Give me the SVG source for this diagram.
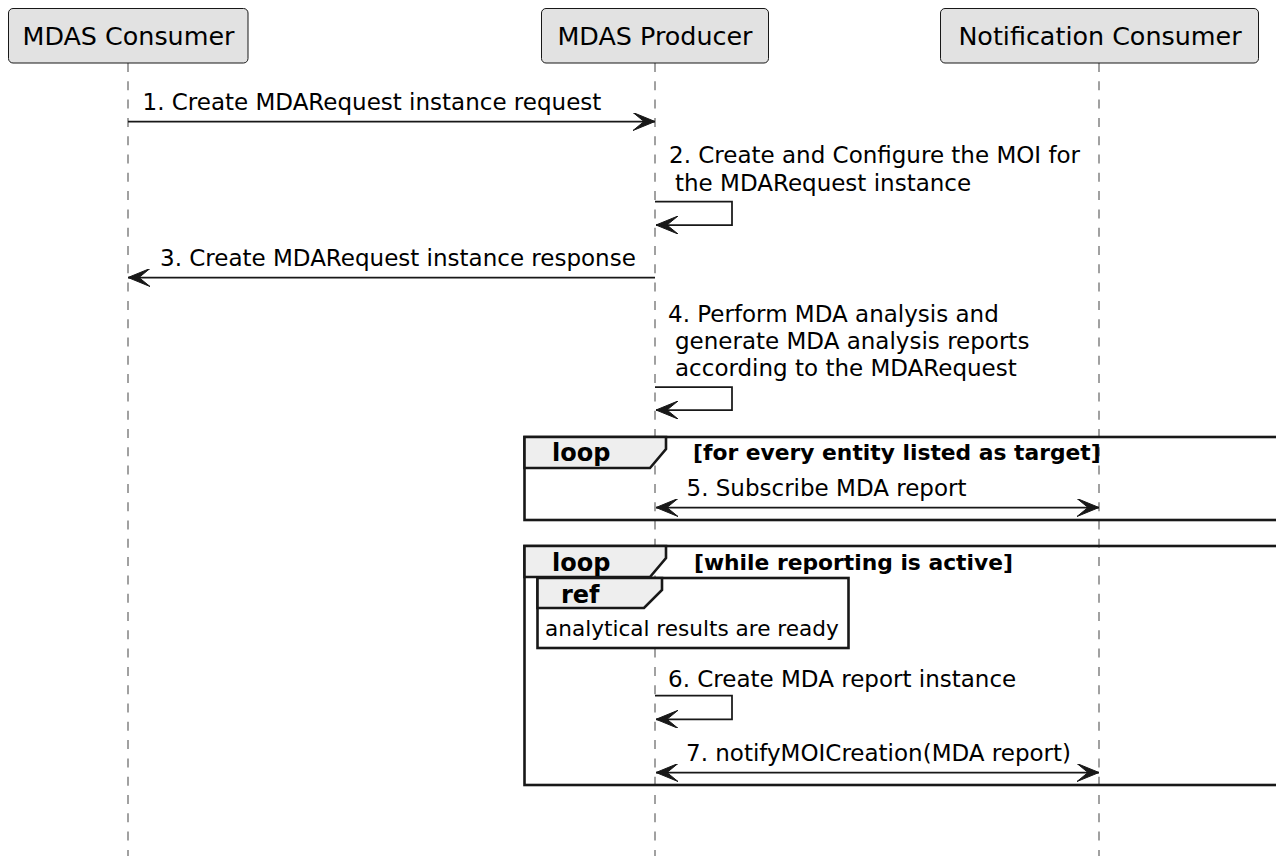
<svg xmlns="http://www.w3.org/2000/svg" width="1276" height="856" viewBox="0 0 1276 856">
<style>
  .pbox { fill: #E2E2E2; stroke: #181818; stroke-width: 1; }
  .ptxt { font-family: "DejaVu Sans", sans-serif; font-size: 25.4px; fill: #000; }
  .life { stroke: #8A8A8A; stroke-width: 1.6; stroke-dasharray: 9,9.3; fill: none; }
  .msg { stroke: #181818; stroke-width: 1.75; fill: none; }
  .mtxt { font-family: "DejaVu Sans", sans-serif; font-size: 23px; fill: #000; }
  .frame { fill: none; stroke: #181818; stroke-width: 2.6; }
  .tab { fill: #EEEEEE; stroke: #181818; stroke-width: 2.6; }
  .ftitle { font-family: "DejaVu Sans", sans-serif; font-weight: bold; font-size: 24px; fill: #000; }
  .guard { font-family: "DejaVu Sans", sans-serif; font-weight: bold; font-size: 21.8px; fill: #000; }
  .reftxt { font-family: "DejaVu Sans", sans-serif; font-size: 21.6px; fill: #000; }
</style>
<defs>
  <marker id="ah" viewBox="0 0 22 18" refX="22" refY="9" markerWidth="22" markerHeight="18" markerUnits="userSpaceOnUse" orient="auto-start-reverse">
    <path d="M0,0 L22,9 L0,18 L11,9 Z" fill="#181818" stroke="#181818" stroke-width="1"/>
  </marker>
</defs>
<rect width="1276" height="856" fill="#FFFFFF"/>

<g id="lifelines">
  <line class="life" x1="128" y1="63" x2="128" y2="856"/>
  <line class="life" x1="655" y1="63" x2="655" y2="856"/>
  <line class="life" x1="1099" y1="63" x2="1099" y2="856"/>
</g>

<g id="mdas-consumer">
  <rect class="pbox" x="8.5" y="8.5" width="239.5" height="54.5" rx="4.5"/>
  <text class="ptxt" x="128.5" y="45" text-anchor="middle">MDAS Consumer</text>
</g>
<g id="mdas-producer">
  <rect class="pbox" x="541.5" y="8.5" width="227" height="54.5" rx="4.5"/>
  <text class="ptxt" x="655" y="45" text-anchor="middle">MDAS Producer</text>
</g>
<g id="notification-consumer">
  <rect class="pbox" x="940.5" y="8.5" width="318" height="54.5" rx="4.5"/>
  <text class="ptxt" x="1100" y="45" text-anchor="middle">Notification Consumer</text>
</g>

<g id="loop1">
  <rect class="frame" x="524.5" y="437" width="760" height="83"/>
  <path class="tab" d="M524.5,437 L666,437 L666,449 L650,468 L524.5,468 Z"/>
  <text class="ftitle" x="552" y="461">loop</text>
  <text class="guard" x="693" y="460">[for every entity listed as target]</text>
</g>

<g id="loop2">
  <rect class="frame" x="524.5" y="546" width="760" height="239"/>
  <path class="tab" d="M524.5,546 L666,546 L666,558 L650,577 L524.5,577 Z"/>
  <text class="ftitle" x="552" y="571">loop</text>
  <text class="guard" x="694" y="570">[while reporting is active]</text>
</g>

<g id="ref">
  <rect x="537.5" y="578" width="311" height="70" fill="#FFFFFF" stroke="#181818" stroke-width="2.6"/>
  <path class="tab" d="M537.5,578 L662,578 L662,590 L644,608 L537.5,608 Z"/>
  <text class="ftitle" x="561" y="603">ref</text>
  <text class="reftxt" x="545" y="636">analytical results are ready</text>
</g>

<g id="connectors">
  <line class="msg" x1="128" y1="121.5" x2="655" y2="121.5" marker-end="url(#ah)"/>
  <text class="mtxt" x="142.5" y="110">1. Create MDARequest instance request</text>

  <polyline class="msg" points="655,201.7 732,201.7 732,225 656,225" marker-end="url(#ah)"/>
  <text class="mtxt" x="669" y="163">2. Create and Configure the MOI for</text>
  <text class="mtxt" x="675" y="190.5">the MDARequest instance</text>

  <line class="msg" x1="655" y1="277.5" x2="128" y2="277.5" marker-end="url(#ah)"/>
  <text class="mtxt" x="160" y="266">3. Create MDARequest instance response</text>

  <polyline class="msg" points="655,387 732,387 732,410 656,410" marker-end="url(#ah)"/>
  <text class="mtxt" x="668" y="322">4. Perform MDA analysis and</text>
  <text class="mtxt" x="675" y="349">generate MDA analysis reports</text>
  <text class="mtxt" x="675" y="376">according to the MDARequest</text>

  <line class="msg" x1="656" y1="507.5" x2="1099" y2="507.5" marker-start="url(#ah)" marker-end="url(#ah)"/>
  <text class="mtxt" x="686.5" y="496">5. Subscribe MDA report</text>

  <polyline class="msg" points="655,695.5 732,695.5 732,719.3 656,719.3" marker-end="url(#ah)"/>
  <text class="mtxt" x="668" y="686.5">6. Create MDA report instance</text>

  <line class="msg" x1="656" y1="772.5" x2="1099" y2="772.5" marker-start="url(#ah)" marker-end="url(#ah)"/>
  <text class="mtxt" x="686" y="761">7. notifyMOICreation(MDA report)</text>
</g>
</svg>
